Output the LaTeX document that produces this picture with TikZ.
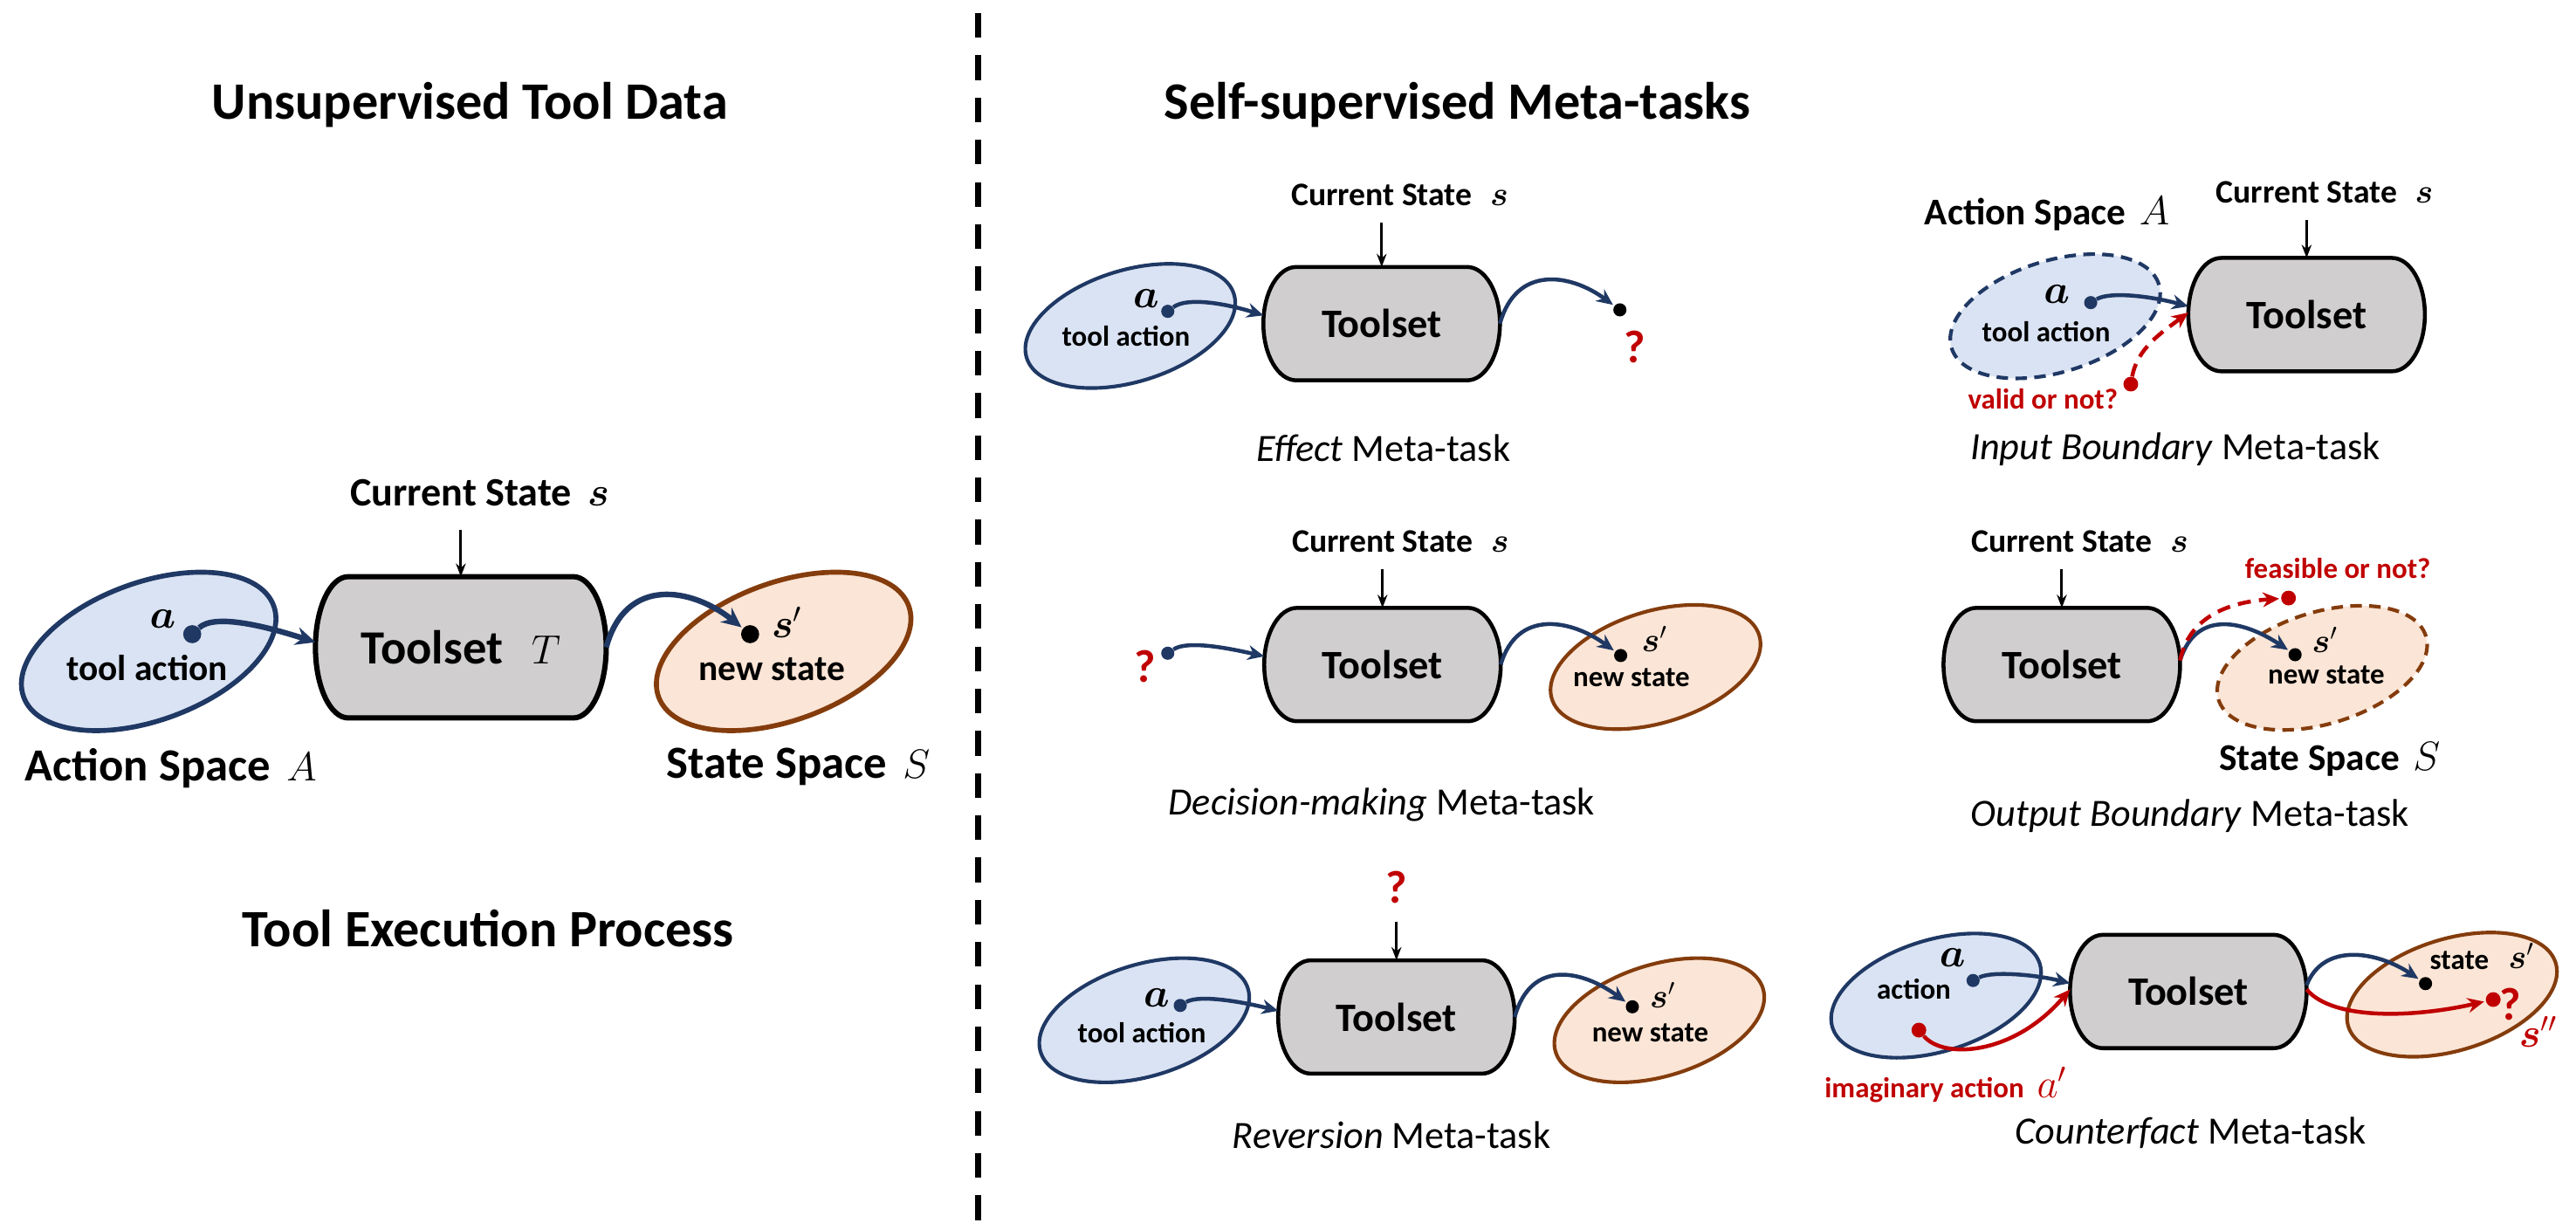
\documentclass[tikz,border=0pt]{standalone}
\usepackage{fontspec}
\setmainfont{Carlito}
\usepackage{amsmath}
\usepackage{tikz}
\usetikzlibrary{arrows.meta}
\usetikzlibrary{shapes.geometric}
\definecolor{navy}{RGB}{31,56,100}
\definecolor{actionfill}{RGB}{218,227,243}
\definecolor{statefill}{RGB}{251,229,214}
\definecolor{stateline}{RGB}{132,60,12}
\definecolor{toolgray}{RGB}{208,206,206}
\definecolor{mydarkred}{RGB}{192,0,0}
\newcommand{\fsize}[1]{\fontsize{#1}{#1}\selectfont}
\newcommand{\widthtool}{144pt}
\newcommand{\heighttool}{69pt}
\newcommand{\barrelrx}{20pt}
\makeatletter
\pgfdeclareshape{barrel}{%
  \inheritsavedanchors[from=rectangle]%
  \inheritanchorborder[from=rectangle]%
  \inheritanchor[from=rectangle]{center}%
  \inheritanchor[from=rectangle]{north}%
  \inheritanchor[from=rectangle]{south}%
  \inheritanchor[from=rectangle]{east}%
  \inheritanchor[from=rectangle]{west}%
  \backgroundpath{%
    \southwest \pgf@xa=\pgf@x \pgf@ya=\pgf@y
    \northeast \pgf@xb=\pgf@x \pgf@yb=\pgf@y
    \edef\barrelry{\the\dimexpr(\pgf@yb-\pgf@ya)/2\relax}%
    \edef\barrelleft{\the\dimexpr\pgf@xa+\barrelrx\relax}%
    \edef\barrelright{\the\dimexpr\pgf@xb-\barrelrx\relax}%
    \edef\barreltop{\the\pgf@yb}%
    \edef\barrelbottom{\the\pgf@ya}%
    \pgfpathmoveto{\pgfqpoint{\barrelleft}{\barreltop}}%
    \pgfpathlineto{\pgfqpoint{\barrelright}{\barreltop}}%
    \pgfpatharc{90}{-90}{\barrelrx and \barrelry}%
    \pgfpathlineto{\pgfqpoint{\barrelleft}{\barrelbottom}}%
    \pgfpatharc{270}{90}{\barrelrx and \barrelry}%
    \pgfpathclose
  }%
}
\makeatother
\tikzset{
    toolset/.style={draw, line width=2.4pt, fill=toolgray, shape=barrel, minimum width=\widthtool, minimum height=\heighttool, inner sep=0pt, outer sep=0pt, font=\fsize{24.6}\bfseries},
    bigtoolset/.style={toolset, line width=3.2pt, minimum width=177pt, minimum height=86pt, font=\fsize{29}\bfseries},
    region/.style={ellipse, line width=2.2pt, inner sep=0pt},
    smallregion/.style={minimum width=132pt, minimum height=68pt, rotate=17},
    bigregion/.style={line width=3pt, minimum width=162pt, minimum height=84pt, rotate=20},
    actionspace/.style={region, draw=navy, fill=actionfill},
    statespace/.style={region, draw=stateline, fill=statefill},
    dashborder/.style={dash pattern=on 7pt off 4.5pt},
    tipdot/.style={circle, inner sep=0pt, minimum size=8pt, fill=navy},
    enddot/.style={tipdot, fill=black},
    reddot/.style={tipdot, fill=mydarkred, minimum size=9pt},
    bigdot/.style={minimum size=11pt},
    heading/.style={font=\fsize{32}\bfseries},
    curstate/.style={font=\fsize{20}\bfseries, inner xsep=0pt, inner ysep=10pt},
    bigcurstate/.style={font=\fsize{24.5}\bfseries, inner xsep=0pt, inner ysep=14pt},
    spacename/.style={font=\fsize{23}\bfseries},
    bigspacename/.style={font=\fsize{28}\bfseries},
    note/.style={font=\fsize{17.5}\bfseries, inner sep=0pt},
    bignote/.style={font=\fsize{22}\bfseries, inner sep=0pt},
    rednote/.style={note, text=mydarkred},
    caption/.style={font=\fsize{23.5}},
    ask/.style={font=\fsize{28}\bfseries, text=mydarkred, inner sep=0pt},
    symvar/.style={font=\fsize{25}, inner sep=0pt},
    bigsymvar/.style={font=\fsize{31}, inner sep=0pt},
    prime/.style={font=\fsize{22}, inner sep=0pt},
    bigprime/.style={font=\fsize{26}, inner sep=0pt},
    flow/.style={draw=navy, line width=2.4pt, -{Stealth[length=10pt, width=9pt]}},
    bigflow/.style={flow, line width=3.4pt, -{Stealth[length=12pt, width=11pt]}},
    redflow/.style={flow, draw=mydarkred},
    dashflow/.style={redflow, dash pattern=on 8pt off 5pt},
    feed/.style={draw, line width=1.6pt, -{Stealth[length=8pt, width=6pt]}},
    divider/.style={line width=3.5pt, dash pattern=on 15pt off 10.7pt}
}
\begin{document}
\begin{tikzpicture}[x=1pt, y=-1pt]
    \useasboundingbox (0,0) rectangle (1568,744);

    \path
        (286,64) node[heading] (title-left) {Unsupervised Tool Data}
        (887,64) node[heading] (title-right) {Self-supervised Meta-tasks}
        (297,565) node[heading] (process) {Tool Execution Process};
    \coordinate (sep-top) at (595.5,8);
    \coordinate (sep-bottom) at (595.5,744);
    \draw[divider] (sep-top) -- (sep-bottom);

    \path
        (90.5,396.5) node[actionspace, bigregion] (A0) {}
        (477,396.5) node[statespace, bigregion] (S0) {}
        (280.5,394) node[bigtoolset] (T0) {Toolset\hspace{0.6em}$T$}
        (280.5,300) node[bigcurstate] (cs0) {Current State\rlap{\hspace{0.4em}$\boldsymbol{s}$}}
        (99,377) node[bigsymvar] (a0) {$\boldsymbol{a}$}
        (117,386) node[tipdot, bigdot] (da0) {}
        (89.5,406.5) node[bignote] (ta0) {tool action}
        (456.6,386) node[enddot, bigdot] (ds0) {}
        (479,379) node[bigprime] (s0) {$\boldsymbol{s}'$}
        (470,407.5) node[bignote] (ns0) {new state}
        (104,467.6) node[bigspacename] (an0) {Action Space\hspace{0.35em}$A$}
        (486,466.7) node[bigspacename] (sn0) {State Space\hspace{0.35em}$S$};
    \draw[feed] (cs0.south) -- (T0.north);
    \draw[bigflow] (da0) .. controls +(14,-13) and +(-28,-9) .. (T0.178);
    \draw[bigflow, shorten >=1pt] (T0.east) .. controls +(12,-44) and +(-35,-28) .. (ds0);

    \path
        (688,198.4) node[actionspace, smallregion] (A1) {}
        (841,197) node[toolset] (T1) {Toolset}
        (841,118.6) node[curstate] (cs1) {Current State\rlap{\hspace{0.55em}$\boldsymbol{s}$}}
        (697.6,182) node[symvar] (a1) {$\boldsymbol{a}$}
        (710.8,189.5) node[tipdot] (da1) {}
        (685.4,204.6) node[note] (ta1) {tool action}
        (986,188.6) node[enddot] (dq1) {}
        (995,211) node[ask] (q1) {?}
        (842,273) node[caption] (cap1) {\textit{Effect} Meta-task};
    \draw[feed] (cs1.south) -- (T1.north);
    \draw[flow] (da1) .. controls +(12,-9) and +(-22,-7) .. (T1.176);
    \draw[flow, shorten >=1pt] (T1.east) .. controls +(10,-36) and +(-30,-22) .. (dq1);

    \path
        (1251,192.5) node[actionspace, smallregion, dashborder] (A2) {}
        (1404,191.5) node[toolset] (T2) {Toolset}
        (1404,117) node[curstate] (cs2) {Current State\rlap{\hspace{0.55em}$\boldsymbol{s}$}}
        (1246,130) node[spacename] (an2) {Action Space\hspace{0.35em}$A$}
        (1252,179) node[symvar] (a2) {$\boldsymbol{a}$}
        (1272.6,184.2) node[tipdot] (da2) {}
        (1245.5,202) node[note] (ta2) {tool action}
        (1297,233.8) node[reddot] (dr2) {}
        (1243.5,242.7) node[rednote] (valid) {valid or not?}
        (1324,273.6) node[caption] (cap2) {\textit{Input Boundary} Meta-task};
    \draw[feed] (cs2.south) -- (T2.north);
    \draw[flow] (da2) .. controls +(12,-7) and +(-22,-6) .. (T2.176);
    \draw[dashflow] (dr2) .. controls +(4,-22) and +(-16,12) .. (T2.179);

    \path
        (1007.7,406) node[statespace, smallregion] (S3) {}
        (841.5,404.5) node[toolset] (T3) {Toolset}
        (841.5,329.4) node[curstate] (cs3) {Current State\rlap{\hspace{0.55em}$\boldsymbol{s}$}}
        (697,405.6) node[ask] (q3) {?}
        (710.8,397.6) node[tipdot] (da3) {}
        (986.5,399) node[enddot] (ds3) {}
        (1007,388.8) node[prime] (s3) {$\boldsymbol{s}'$}
        (993,412.7) node[note] (ns3) {new state}
        (841,489.7) node[caption] (cap3) {\textit{Decision-making} Meta-task};
    \draw[feed] (cs3.south) -- (T3.north);
    \draw[flow] (da3) .. controls +(12,-8) and +(-22,-5) .. (T3.176);
    \draw[flow, shorten >=1pt] (T3.east) .. controls +(10,-34) and +(-30,-22) .. (ds3);

    \path
        (1413.5,406.5) node[statespace, smallregion, dashborder] (S4) {}
        (1255,404.5) node[toolset] (T4) {Toolset}
        (1255,329.4) node[curstate] (cs4) {Current State\rlap{\hspace{0.55em}$\boldsymbol{s}$}}
        (1397,398.5) node[enddot] (ds4) {}
        (1415,389.6) node[prime] (s4) {$\boldsymbol{s}'$}
        (1416,410.9) node[note] (ns4) {new state}
        (1393,364) node[reddot] (dr4) {}
        (1423,346) node[rednote] (feasible) {feasible or not?}
        (1418,462.3) node[spacename] (sn4) {State Space\hspace{0.35em}$S$}
        (1333,496.8) node[caption] (cap4) {\textit{Output Boundary} Meta-task};
    \draw[feed] (cs4.south) -- (T4.north);
    \draw[flow, shorten >=1pt] (T4.2) .. controls +(10,-32) and +(-30,-20) .. (ds4);
    \draw[dashflow, shorten >=1pt] (T4.2) .. controls +(6,-30) and +(-30,2) .. (dr4);

    \path
        (696.5,621) node[actionspace, smallregion] (A5) {}
        (1010,621) node[statespace, smallregion] (S5) {}
        (850,619) node[toolset] (T5) {Toolset}
        (850,540) node[ask] (q5) {?}
        (704,607.4) node[symvar] (a5) {$\boldsymbol{a}$}
        (718.4,612) node[tipdot] (da5) {}
        (695,628.7) node[note] (ta5) {tool action}
        (993.6,612.8) node[enddot] (ds5) {}
        (1012,605.7) node[prime] (s5) {$\boldsymbol{s}'$}
        (1004.5,628.7) node[note] (ns5) {new state}
        (847,690.8) node[caption] (cap5) {\textit{Reversion} Meta-task};
    \draw[feed, shorten <=11pt] (q5.south) -- (T5.north);
    \draw[flow] (da5) .. controls +(12,-7) and +(-20,-5) .. (T5.177);
    \draw[flow, shorten >=1pt] (T5.east) .. controls +(10,-36) and +(-30,-22) .. (ds5);

    \path
        (1178.5,606) node[actionspace, smallregion] (A6) {}
        (1492.5,605.4) node[statespace, smallregion] (S6) {}
        (1332,603.5) node[toolset] (T6) {Toolset}
        (1188.5,582.7) node[symvar] (a6) {$\boldsymbol{a}$}
        (1165,602) node[note] (ac6) {action}
        (1201,596.8) node[tipdot] (da6) {}
        (1168,627) node[reddot] (dr6) {}
        (1110.5,668) node[rednote, anchor=base west] (imag) {imaginary action\hspace{0.45em}{\fsize{24}$a'$}}
        (1497,584.5) node[note] (st6) {state}
        (1534.6,582) node[prime] (s6) {$\boldsymbol{s}'$}
        (1476.4,598.7) node[enddot] (ds6) {}
        (1517.6,608.4) node[reddot] (dr6b) {}
        (1528,611.5) node[ask] (q6) {?}
        (1545,628) node[prime, text=mydarkred, font=\fsize{24}] (s6b) {$\boldsymbol{s}''$}
        (1333.5,689.7) node[caption] (cap6) {\textit{Counterfact} Meta-task};
    \draw[flow] (da6) .. controls +(12,-6) and +(-20,-5) .. (T6.176);
    \draw[redflow] (dr6) .. controls +(15,18) and +(-34,40) .. (T6.179);
    \draw[flow, shorten >=1pt] (T6.3) .. controls +(10,-26) and +(-30,-20) .. (ds6);
    \draw[redflow, shorten >=1pt] (T6.1) .. controls +(16,19) and +(-48,11) .. (dr6b);
\end{tikzpicture}
\end{document}
